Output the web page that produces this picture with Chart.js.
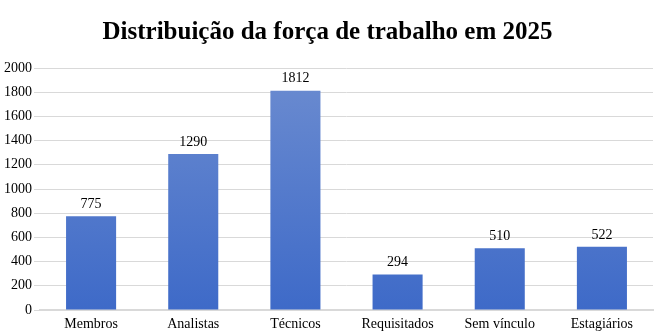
<!DOCTYPE html>
<html>
<head>
<meta charset="utf-8">
<script src="https://cdn.jsdelivr.net/npm/chart.js@4"></script>
<style>
  html, body { margin: 0; padding: 0; background: #fff; }
  #wrap { width: 657px; height: 334px; position: relative; }
</style>
</head>
<body>
<div id="wrap"><canvas id="chart"></canvas></div>
<script>
const categories = ['Membros', 'Analistas', 'Técnicos', 'Requisitados', 'Sem vínculo', 'Estagiários'];
const values = [775, 1290, 1812, 294, 510, 522];
const yTicks = [0, 200, 400, 600, 800, 1000, 1200, 1400, 1600, 1800, 2000];

// value labels on top of each bar
const valueLabels = {
  id: 'valueLabels',
  afterDatasetsDraw(chart) {
    const ctx = chart.ctx;
    const meta = chart.getDatasetMeta(0);
    ctx.save();
    ctx.font = '14px "Liberation Serif", "Times New Roman", serif';
    ctx.fillStyle = '#000';
    ctx.textAlign = 'center';
    ctx.textBaseline = 'bottom';
    meta.data.forEach((bar, i) => {
      ctx.fillText(values[i], bar.x, bar.y - 5);
    });
    ctx.restore();
  }
};

function barGradient(context) {
  const chart = context.chart;
  const area = chart.chartArea;
  if (!area) return '#4F78CB';
  const g = chart.ctx.createLinearGradient(0, area.top, 0, area.bottom);
  g.addColorStop(0, '#6C8CD0');
  g.addColorStop(1, '#3E6AC8');
  return g;
}

const ctx = document.getElementById('chart').getContext('2d');
new Chart(ctx, {
  type: 'bar',
  data: {
    labels: categories,
    datasets: [{
      data: values,
      backgroundColor: barGradient,
      borderWidth: 0,
      barPercentage: 0.49,
      categoryPercentage: 1
    }]
  },
  options: {
    responsive: true,
    maintainAspectRatio: false,
    animation: false,
    layout: { padding: { left: 2, right: 4, top: 0, bottom: 0 } },
    plugins: {
      legend: { display: false },
      tooltip: { enabled: false },
      title: {
        display: true,
        text: 'Distribuição da força de trabalho em 2025',
        color: '#000',
        font: { family: '"Liberation Serif", "Times New Roman", serif', size: 25, weight: 'bold' },
        padding: { top: 18, bottom: 20 }
      }
    },
    scales: {
      x: {
        grid: { display: false, drawTicks: false },
        border: { color: '#D9D9D9', width: 2 },
        afterFit(axis) { axis.height = 24; },
        ticks: {
          color: '#000',
          padding: 6,
          maxRotation: 0,
          font: { family: '"Liberation Serif", "Times New Roman", serif', size: 14 }
        }
      },
      y: {
        min: 0,
        max: 2000,
        afterBuildTicks(axis) { axis.ticks = yTicks.map(v => ({ value: v })); },
        grid: { color: '#D9D9D9', drawTicks: true, tickLength: 6, tickColor: '#D9D9D9' },
        border: { display: false },
        ticks: {
          color: '#000',
          padding: 2,
          callback: v => String(v),
          font: { family: '"Liberation Serif", "Times New Roman", serif', size: 14 }
        }
      }
    }
  },
  plugins: [valueLabels]
});
</script>
</body>
</html>
